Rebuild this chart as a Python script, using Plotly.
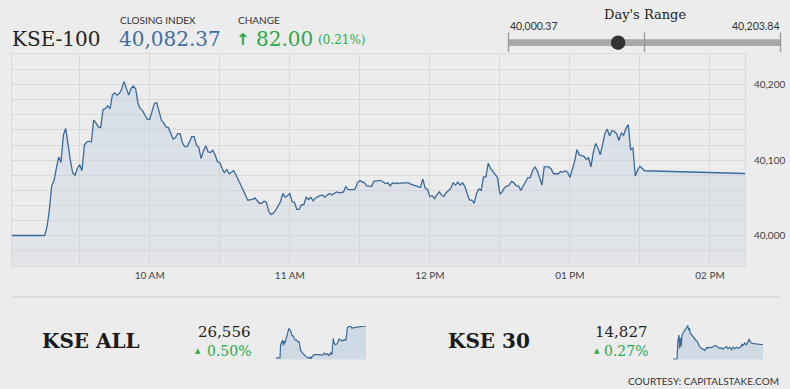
import plotly.graph_objects as go
from datetime import datetime, timedelta

W, H = 790, 389
SESSION = datetime(2019, 1, 8, 9, 0)

# ---------------- data ----------------
closing_index = 40082.37
change_points = 82.00
change_pct = 0.21
day_low = 40000.37
day_high = 40203.84

# KSE-100 intraday: minutes after 09:00 and index level
kse100_minutes = [1, 15] + list(range(16, 273)) + [315]
kse100_values = [
    40000.37, 40000.37,
    40012, 40034, 40066, 40073, 40089, 40104, 40097, 40133, 40142, 40117,
    40100, 40083, 40080, 40089, 40094, 40086, 40120, 40124, 40125, 40124,
    40153, 40149, 40144, 40143, 40167, 40168, 40172, 40168, 40186, 40189,
    40186, 40188, 40194, 40203.84, 40194, 40186, 40195, 40198, 40194, 40175,
    40168, 40165, 40159, 40154, 40154, 40164, 40175, 40176, 40164, 40153,
    40149, 40144, 40143, 40134, 40128, 40130, 40135, 40135, 40123, 40118,
    40118, 40124, 40131, 40131, 40120, 40117, 40102, 40112, 40119, 40111,
    40110, 40113, 40107, 40098, 40097, 40089, 40083, 40088, 40082, 40084,
    40086, 40080, 40074, 40067, 40061, 40054, 40047, 40047, 40048, 40050,
    40046, 40043, 40043, 40046, 40044, 40032, 40028, 40030, 40034, 40040,
    40045, 40056, 40051, 40053, 40056, 40045, 40044, 40035, 40035, 40041,
    40041, 40051, 40048, 40051, 40046, 40050, 40052, 40053, 40054, 40051,
    40054, 40056, 40054, 40056, 40058, 40057, 40057, 40058, 40065, 40061,
    40061, 40061, 40062, 40070, 40073, 40071, 40070, 40066, 40065, 40065,
    40072, 40073, 40073, 40073, 40071, 40069, 40070, 40066, 40070, 40069,
    40070, 40069, 40070, 40070, 40070, 40070, 40068, 40067, 40065, 40065,
    40064, 40075, 40063, 40061, 40052, 40053, 40049, 40054, 40058, 40054,
    40052, 40057, 40060, 40063, 40070, 40067, 40071, 40067, 40070, 40065,
    40056, 40047, 40047, 40043, 40056, 40062, 40060, 40078, 40078, 40096,
    40089, 40085, 40081, 40077, 40055, 40058, 40064, 40066, 40067, 40072,
    40070, 40066, 40066, 40060, 40066, 40073, 40077, 40077, 40086, 40091,
    40086, 40077, 40067, 40091, 40091, 40091, 40088, 40082, 40082, 40082,
    40085, 40084, 40086, 40084, 40077, 40086, 40098, 40114, 40107, 40106,
    40105, 40101, 40103, 40091, 40110, 40122, 40116, 40107, 40122, 40135,
    40141, 40132, 40139, 40138, 40135, 40126, 40136, 40133, 40142, 40147,
    40114, 40116, 40079, 40087, 40092, 40089, 40086,
    40082.37,
]

# KSE ALL sparkline
kseall_last = 26556
kseall_pct = 0.50
kseall_minutes = [1, 15, 17, 21, 24, 27, 29, 32, 36, 40, 46, 50, 53, 57, 61, 65, 68,
                  73, 78, 82, 87, 93, 96, 102, 108, 114, 120, 123, 128, 134, 141,
                  146, 154, 163, 170, 174, 180, 185, 192, 196, 199, 201, 204, 209,
                  215, 221, 227, 234, 241, 245, 250, 256, 262, 266, 273, 282, 294,
                  306, 315]
kseall_values = [26424, 26424, 26479, 26491, 26498, 26476, 26494, 26484, 26505,
                 26526, 26547, 26540, 26533, 26516, 26516, 26505, 26498, 26498,
                 26491, 26491, 26455, 26445, 26441, 26434, 26427, 26423, 26427,
                 26420, 26431, 26437, 26437, 26438, 26437, 26434, 26444, 26437,
                 26441, 26434, 26445, 26437, 26491, 26505, 26484, 26479, 26484,
                 26502, 26498, 26495, 26501, 26498, 26550, 26555, 26555, 26547,
                 26550, 26552, 26555, 26556, 26556]

# KSE 30 sparkline
kse30_last = 14827
kse30_pct = 0.27
kse30_minutes = [1, 15, 18, 22, 24, 27, 30, 32, 36, 39, 44, 49, 52, 56, 58, 61, 65,
                 70, 73, 77, 81, 85, 88, 94, 100, 106, 111, 115, 120, 123, 129,
                 135, 141, 146, 152, 158, 164, 170, 175, 181, 187, 193, 199, 205,
                 211, 216, 222, 228, 234, 239, 242, 246, 251, 257, 263, 266, 270,
                 274, 284, 298, 315]
kse30_values = [14787, 14787, 14837, 14854, 14817, 14846, 14822, 14851, 14860,
                14865, 14870, 14875, 14881, 14867, 14873, 14860, 14856, 14848,
                14846, 14843, 14839, 14837, 14832, 14822, 14817, 14815, 14811,
                14815, 14820, 14817, 14820, 14819, 14822, 14824, 14824, 14820,
                14817, 14819, 14815, 14819, 14822, 14816, 14820, 14813, 14820,
                14816, 14820, 14817, 14820, 14822, 14829, 14824, 14832, 14827,
                14835, 14843, 14837, 14832, 14830, 14829, 14827]


def to_times(mins):
    return [SESSION + timedelta(minutes=m) for m in mins]


def px(x):
    return x / W


def py(y):
    return 1 - y / H


BG = "#ececec"
GRID = "#dadada"
LINE = "#3b6a9a"
GREEN = "#2aaa48"
BLUE = "#3c6ea6"
SERIF = "DejaVu Serif"
SANS = "Lato"

Y_MIN, Y_MAX = 39960, 40240

fig = go.Figure()

fig.add_trace(go.Scatter(
    x=to_times(kse100_minutes), y=kse100_values, mode="lines",
    line=dict(color=LINE, width=1.3), fill="tozeroy",
    fillgradient=dict(type="vertical", start=Y_MIN, stop=max(kse100_values),
                      colorscale=[[0, "rgba(195,205,218,0.22)"],
                                  [1, "rgba(180,202,228,0.42)"]]),
    hoverinfo="skip", xaxis="x", yaxis="y"))

fig.add_trace(go.Scatter(
    x=to_times(kseall_minutes), y=kseall_values, mode="lines",
    line=dict(color=LINE, width=1.2), fill="tozeroy", fillcolor="rgba(175,197,222,0.45)",
    hoverinfo="skip", xaxis="x2", yaxis="y2"))

fig.add_trace(go.Scatter(
    x=to_times(kse30_minutes), y=kse30_values, mode="lines",
    line=dict(color=LINE, width=1.2), fill="tozeroy", fillcolor="rgba(175,197,222,0.45)",
    hoverinfo="skip", xaxis="x3", yaxis="y3"))

tickfont = dict(family=SANS, size=10, color="#444444")

fig.update_layout(
    width=W, height=H, margin=dict(l=0, r=0, t=0, b=0),
    paper_bgcolor=BG, plot_bgcolor=BG, showlegend=False,
    xaxis=dict(
        domain=[px(12), px(745)], type="date",
        range=[SESSION + timedelta(minutes=kse100_minutes[0]),
               SESSION + timedelta(minutes=kse100_minutes[-1])],
        tick0=SESSION + timedelta(minutes=60), dtick=3600000, tickformat="%I %p",
        showgrid=True, gridcolor=GRID, gridwidth=1,
        minor=dict(dtick=1800000, tick0=SESSION + timedelta(minutes=30),
                   showgrid=True, gridcolor=GRID, gridwidth=1),
        showline=True, linecolor=GRID, mirror=True, zeroline=False,
        ticks="", tickfont=tickfont, fixedrange=True),
    yaxis=dict(
        domain=[py(266), py(54.3)], range=[Y_MIN, Y_MAX], side="right",
        tick0=40000, dtick=100, tickformat=",",
        showgrid=True, gridcolor=GRID, gridwidth=1,
        minor=dict(dtick=20, tick0=40000, showgrid=True, gridcolor=GRID, gridwidth=1),
        showline=True, linecolor=GRID, mirror=True, zeroline=False,
        ticks="", tickfont=tickfont, ticklabelstandoff=6, fixedrange=True),
    xaxis2=dict(domain=[px(276), px(366)], type="date", visible=False,
                range=[SESSION + timedelta(minutes=kseall_minutes[0]),
                       SESSION + timedelta(minutes=kseall_minutes[-1])]),
    yaxis2=dict(domain=[py(359.5), py(326)], visible=False,
                range=[min(kseall_values) - 3, max(kseall_values) + 1]),
    xaxis3=dict(domain=[px(673), px(763)], type="date", visible=False,
                range=[SESSION + timedelta(minutes=kse30_minutes[0]),
                       SESSION + timedelta(minutes=kse30_minutes[-1])]),
    yaxis3=dict(domain=[py(359.5), py(325)], visible=False,
                range=[min(kse30_values) - 1, max(kse30_values) + 1]),
)

shapes = []
# separator
shapes.append(dict(type="line", xref="paper", yref="paper", x0=px(12), x1=px(780),
                   y0=py(297), y1=py(297), line=dict(color="#cfcfcf", width=1)))
# day's range bar
bx0, bx1, by = 508.5, 780.5, 42.7
shapes.append(dict(type="rect", xref="paper", yref="paper", x0=px(bx0), x1=px(bx1),
                   y0=py(by + 3.4), y1=py(by - 3.4), fillcolor="#a9a9a9", line=dict(width=0)))
for tx in (bx0, (bx0 + bx1) / 2, bx1):
    shapes.append(dict(type="line", xref="paper", yref="paper", x0=px(tx), x1=px(tx),
                       y0=py(52), y1=py(32.5), line=dict(color="#999999", width=1.3)))
frac = (closing_index - day_low) / (day_high - day_low)
dot_x = bx0 + frac * (bx1 - bx0)
r = 7.2
shapes.append(dict(type="circle", xref="paper", yref="paper",
                   x0=px(dot_x - r), x1=px(dot_x + r), y0=py(by + r), y1=py(by - r),
                   fillcolor="#333333", line=dict(width=0)))
fig.update_layout(shapes=shapes)

ann = []


def add(text, x, y, size, color, family, xanchor="left", yanchor="middle"):
    ann.append(dict(text=text, x=px(x), y=py(y), xref="paper", yref="paper",
                    xanchor=xanchor, yanchor=yanchor, showarrow=False,
                    font=dict(size=size, color=color, family=family)))


add("KSE-100", 10, 38.5, 20, "#222222", SERIF)
add("CLOSING INDEX", 117.5, 19.5, 10, "#333333", SANS)
add(f"{closing_index:,.2f}", 117, 38.5, 20, BLUE, SERIF)
add("CHANGE", 235.5, 19.5, 10, "#333333", SANS)
add("<b>↑</b>", 234, 39, 16, GREEN, "DejaVu Sans")
add(f"{change_points:.2f}", 253.5, 38.5, 20, GREEN, SERIF)
add(f"({change_pct:.2f}%)", 315.5, 40, 12, GREEN, SERIF)

add("Day's Range", 644.5, 14, 13, "#222222", SERIF, xanchor="center")
add(f"{day_low:,.2f}", 507.5, 25.5, 10.5, "#333333", SANS)
add(f"{day_high:,.2f}", 781.5, 25.5, 10.5, "#333333", SANS, xanchor="right")

add("<b>KSE ALL</b>", 40, 341, 20, "#1a1a1a", SERIF)
add(f"{kseall_last:,}", 253, 331.5, 15, "#222222", SERIF, xanchor="right")
add("▲", 193, 351, 7, GREEN, "DejaVu Sans")
add(f"{kseall_pct:.2f}%", 253, 351, 14, GREEN, SERIF, xanchor="right")

add("<b>KSE 30</b>", 446, 341, 20, "#1a1a1a", SERIF)
add(f"{kse30_last:,}", 650, 331.5, 15, "#222222", SERIF, xanchor="right")
add("▲", 592, 351, 7, GREEN, "DejaVu Sans")
add(f"{kse30_pct:.2f}%", 650, 351, 14, GREEN, SERIF, xanchor="right")

add("COURTESY: CAPITALSTAKE.COM", 781, 380.5, 10, "#333333", SANS, xanchor="right")

fig.update_layout(annotations=ann)

fig.write_html(
    "out.html",
    config={"displayModeBar": False},
    post_script="document.body.style.margin='0';document.body.style.overflow='hidden';",
)
